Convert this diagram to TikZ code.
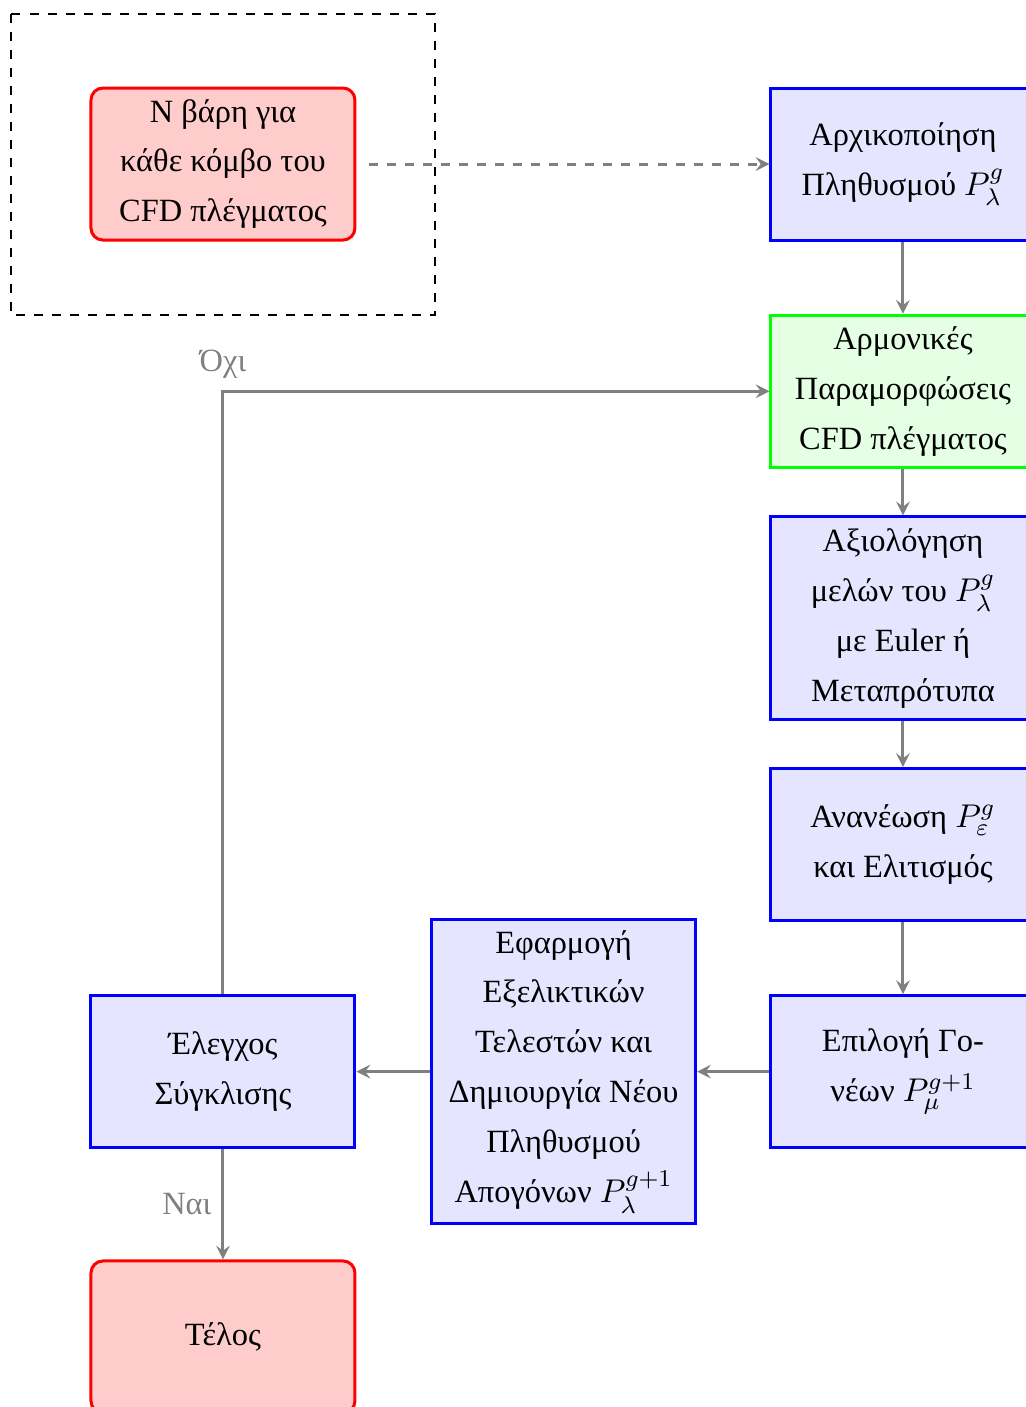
\documentclass[tikz,border=0pt]{standalone}
\usepackage{fontspec}
\setmainfont{Liberation Serif}
\tikzset{
  block/.style={draw=blue, fill=blue!10, line width=1pt, minimum width=3.09cm, minimum height=1.78cm,
    align=center, inner sep=1pt, font=\fontsize{10.8}{16.65}\selectfont},
  greenblock/.style={block, draw=green, fill=green!10},
  redblock/.style={block, draw=red, fill=red!20, rounded corners},
  flow/.style={draw=gray, line width=1pt, -stealth},
  lbl/.style={text=gray, font=\fontsize{10.8}{14}\selectfont}
}

\begin{document}
\begin{tikzpicture}
%%%%% START %%%%%
\useasboundingbox (0,0) rectangle (12,-16.47);

\draw[dashed, semithick] (0.13,-0.16) rectangle (5.09,-3.69);
\node[redblock] (weights) at (2.61,-1.92) {N βάρη για\\κάθε κόμβο του\\CFD πλέγματος};

\node[block] (init) at (10.57,-1.92) {Αρχικοποίηση\\Πληθυσμού $P_\lambda^g$};
\node[greenblock] (harm) at (10.57,-4.58) {Αρμονικές\\Παραμορφώσεις\\CFD πλέγματος};
\node[block, minimum height=2.37cm] (eval) at (10.57,-7.235) {Αξιολόγηση\\μελών του $P_\lambda^g$\\με Euler ή\\Μεταπρότυπα};
\node[block] (update) at (10.57,-9.886) {Ανανέωση $P_\varepsilon^g$\\και Ελιτισμός};
\node[block] (select) at (10.57,-12.544) {Επιλογή Γο-\\νέων $P_\mu^{g+1}$};

\node[block, minimum height=3.55cm] (apply) at (6.597,-12.544) {Εφαρμογή\\Εξελικτικών\\Τελεστών και\\Δημιουργία Νέου\\Πληθυσμού\\Απογόνων $P_\lambda^{g+1}$};
\node[block] (conv) at (2.61,-12.544) {Έλεγχος\\Σύγκλισης};
\node[redblock] (stop) at (2.61,-15.65) {Τέλος};

% connectors
\draw[flow, dashed, shorten <=0.15cm] (weights.east) -- (init.west);
\draw[flow] (init) -- (harm);
\draw[flow] (harm) -- (eval);
\draw[flow] (eval) -- (update);
\draw[flow] (update) -- (select);
\draw[flow] (select) -- (apply);
\draw[flow] (apply) -- (conv);
\draw[flow] (conv.north) |- node[lbl, pos=0.5, above=0.2mm] {Όχι} (harm.west);
\draw[flow] (conv) -- node[lbl, left] {Ναι} (stop);
%%%%% END %%%%%
\end{tikzpicture}
\end{document}
